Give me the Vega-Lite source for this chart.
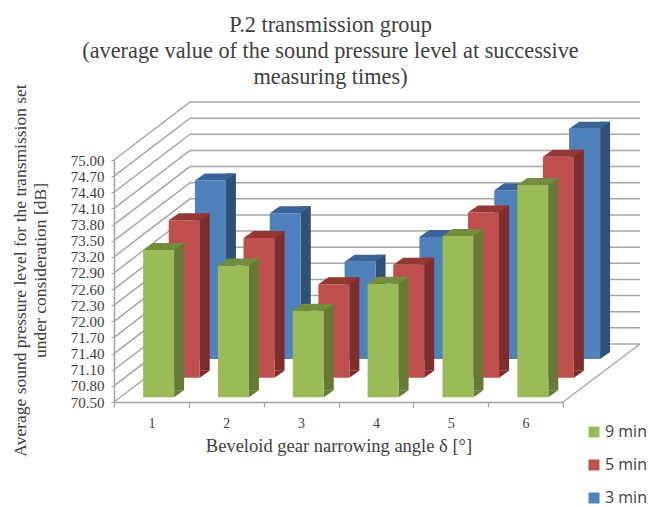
{"$schema":"https://vega.github.io/schema/vega-lite/v6.json","width":449,"height":242,"autosize":{"type":"none"},"padding":{"left":114,"top":160,"right":92,"bottom":105},"background":"white","title":{"text":["P.2 transmission group","(average value of the sound pressure level at successive","measuring times)"],"font":"Liberation Serif","fontSize":22.3,"fontWeight":"normal","color":"#404040","lineHeight":26,"anchor":"middle","dx":-8,"offset":-5},"config":{"view":{"stroke":null}},"datasets":{"bars":[{"angle":"1","series":"9 min","value":73.24},{"angle":"2","series":"9 min","value":72.95},{"angle":"3","series":"9 min","value":72.11},{"angle":"4","series":"9 min","value":72.61},{"angle":"5","series":"9 min","value":73.5},{"angle":"6","series":"9 min","value":74.45},{"angle":"1","series":"5 min","value":73.43},{"angle":"2","series":"5 min","value":73.1},{"angle":"3","series":"5 min","value":72.24},{"angle":"4","series":"5 min","value":72.6},{"angle":"5","series":"5 min","value":73.57},{"angle":"6","series":"5 min","value":74.61},{"angle":"1","series":"3 min","value":73.82},{"angle":"2","series":"3 min","value":73.21},{"angle":"3","series":"3 min","value":72.31},{"angle":"4","series":"3 min","value":72.77},{"angle":"5","series":"3 min","value":73.64},{"angle":"6","series":"3 min","value":74.78}],"ticks":[{"value":70.5},{"value":70.8},{"value":71.1},{"value":71.4},{"value":71.7},{"value":72.0},{"value":72.3},{"value":72.6},{"value":72.9},{"value":73.2},{"value":73.5},{"value":73.8},{"value":74.1},{"value":74.4},{"value":74.7},{"value":75.0}]},"data":{"name":"bars"},"encoding":{"x":{"field":"angle","type":"ordinal","scale":{"type":"band","paddingInner":0,"paddingOuter":0,"domain":["1","2","3","4","5","6"]},"axis":{"title":"Beveloid gear narrowing angle δ [°]","titleFont":"Liberation Serif","titleFontSize":18.5,"titleFontWeight":"normal","titleColor":"#404040","titlePadding":6,"labelFont":"Liberation Serif","labelFontSize":14,"labelColor":"#404040","labelAngle":0,"labelPadding":9,"tickSize":5,"tickColor":"#a0a0a0","tickWidth":1.2,"domainColor":"#a0a0a0","domainWidth":1.5,"grid":false,"tickBand":"extent"}},"y":{"field":"value","type":"quantitative","scale":{"domain":[70.5,75],"zero":false,"nice":false},"axis":{"values":[70.5,70.8,71.1,71.4,71.7,72.0,72.3,72.6,72.9,73.2,73.5,73.8,74.1,74.4,74.7,75.0],"format":".2f","title":["Average sound pressure level for the transmission set","under consideration [dB]"],"titleFont":"Liberation Serif","titleFontSize":17.5,"titleFontWeight":"normal","titleColor":"#404040","titleLineHeight":20,"titleX":-85,"titleY":110,"labelFont":"Liberation Serif","labelFontSize":15,"labelColor":"#404040","labelPadding":7,"tickSize":3,"tickColor":"#a0a0a0","domainColor":"#a0a0a0","domainWidth":1.5,"grid":false}},"color":{"field":"series","type":"nominal","scale":{"domain":["9 min","5 min","3 min"],"range":["#9BBB59","#C0504D","#4F81BD"]},"legend":{"title":null,"orient":"none","legendX":472,"legendY":262,"symbolType":"square","symbolSize":121,"symbolStrokeWidth":0,"symbolOpacity":1,"labelFont":"Open Sans","labelFontSize":16,"labelColor":"#404040","labelOffset":3,"rowPadding":13,"clipHeight":20}}},"layer":[{"data":{"name":"ticks"},"mark":{"type":"point","shape":"M0,0 L76,-58 L526,-58","size":4,"filled":false,"opacity":1,"stroke":"#a6a6a6","strokeWidth":1.5,"xOffset":-37.4},"encoding":{"x":{"datum":"1","type":"ordinal"},"color":{"value":"#a6a6a6"}}},{"data":{"name":"ticks"},"transform":[{"filter":"datum.value===70.5"}],"mark":{"type":"point","shape":"M449,0 L526,-58","size":4,"filled":false,"opacity":1,"stroke":"#a6a6a6","strokeWidth":1.5,"xOffset":-37.4},"encoding":{"x":{"datum":"1","type":"ordinal"},"color":{"value":"#a6a6a6"}}},{"transform":[{"filter":"datum.series==='3 min'"}],"layer":[{"mark":{"type":"bar","size":10,"xOffset":79.5,"yOffset":-50,"y2Offset":-50},"encoding":{"y2":{"datum":70.5},"color":{"value":"#2F5078"}}},{"mark":{"type":"point","shape":"M0,0 L10,-7 L0,-7 Z","size":4,"filled":true,"opacity":1,"xOffset":74.5,"yOffset":-43},"encoding":{"y":{"datum":70.5},"color":{"value":"#2F5078"}}},{"mark":{"type":"bar","size":31,"xOffset":59,"yOffset":-43,"y2Offset":-43},"encoding":{"y2":{"datum":70.5}}},{"mark":{"type":"point","shape":"M-15.5,0 L15.5,0 L25.5,-7 L-5.5,-7 Z","size":4,"filled":true,"opacity":1,"xOffset":59,"yOffset":-43},"encoding":{"color":{"value":"#3A6497"}}}]},{"transform":[{"filter":"datum.series==='5 min'"}],"layer":[{"mark":{"type":"bar","size":10,"xOffset":53.3,"yOffset":-31.3,"y2Offset":-31.3},"encoding":{"y2":{"datum":70.5},"color":{"value":"#7D2E2C"}}},{"mark":{"type":"point","shape":"M0,0 L10,-7 L0,-7 Z","size":4,"filled":true,"opacity":1,"xOffset":48.3,"yOffset":-24.3},"encoding":{"y":{"datum":70.5},"color":{"value":"#7D2E2C"}}},{"mark":{"type":"bar","size":31,"xOffset":32.8,"yOffset":-24.3,"y2Offset":-24.3},"encoding":{"y2":{"datum":70.5}}},{"mark":{"type":"point","shape":"M-15.5,0 L15.5,0 L25.5,-7 L-5.5,-7 Z","size":4,"filled":true,"opacity":1,"xOffset":32.8,"yOffset":-24.3},"encoding":{"color":{"value":"#953735"}}}]},{"transform":[{"filter":"datum.series==='9 min'"}],"layer":[{"mark":{"type":"bar","size":10,"xOffset":27.7,"yOffset":-11.7,"y2Offset":-11.7},"encoding":{"y2":{"datum":70.5},"color":{"value":"#677A35"}}},{"mark":{"type":"point","shape":"M0,0 L10,-7 L0,-7 Z","size":4,"filled":true,"opacity":1,"xOffset":22.7,"yOffset":-4.7},"encoding":{"y":{"datum":70.5},"color":{"value":"#677A35"}}},{"mark":{"type":"bar","size":31,"xOffset":7.2,"yOffset":-4.7,"y2Offset":-4.7},"encoding":{"y2":{"datum":70.5}}},{"mark":{"type":"point","shape":"M-15.5,0 L15.5,0 L25.5,-7 L-5.5,-7 Z","size":4,"filled":true,"opacity":1,"xOffset":7.2,"yOffset":-4.7},"encoding":{"color":{"value":"#738D3D"}}}]}]}
